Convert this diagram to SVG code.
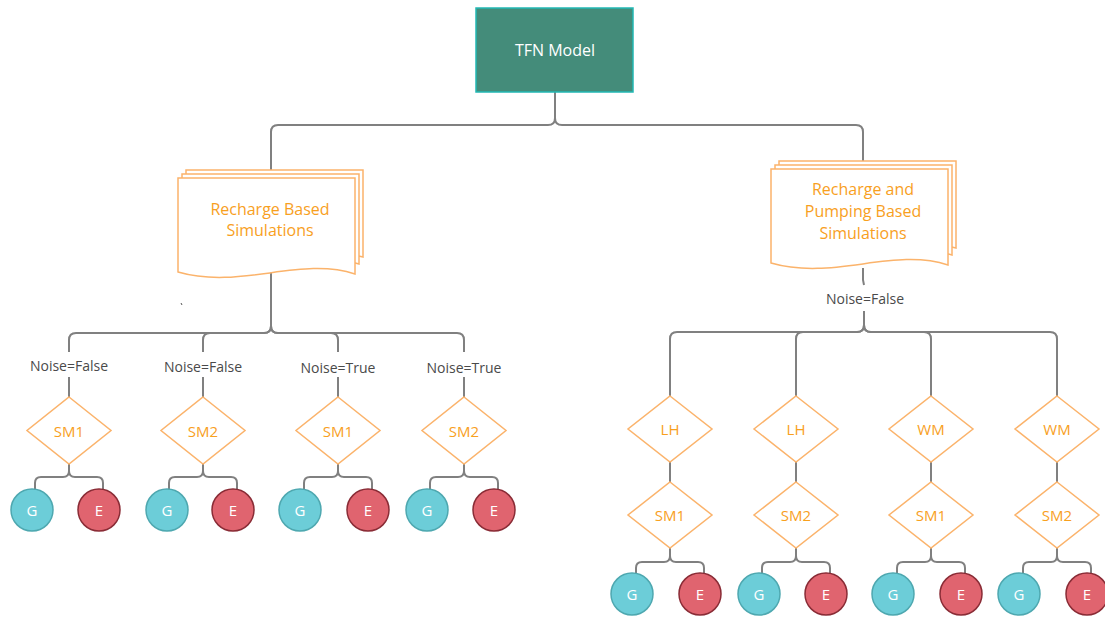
<svg xmlns="http://www.w3.org/2000/svg" xmlns:xlink="http://www.w3.org/1999/xlink" width="1105" height="617" viewBox="0 0 1105 617">
  <style>
    .conn { fill: none; stroke: #808080; stroke-width: 2; }
    .root { fill: #448c7a; stroke: #22b8b4; stroke-width: 1.5; }
    .root-t { fill: #ffffff; font-family: "Open Sans", "Liberation Sans", sans-serif; font-size: 16px; text-anchor: middle; dominant-baseline: central; }
    .doc { fill: #ffffff; stroke: #fbb36b; stroke-width: 1.5; }
    .doc-t { fill: #f8a01e; font-family: "Open Sans", "Liberation Sans", sans-serif; font-size: 16px; text-anchor: middle; dominant-baseline: central; }
    .dia { fill: #ffffff; stroke: #fbb36b; stroke-width: 1.5; }
    .dia-t { fill: #f8a01e; font-family: "Open Sans", "Liberation Sans", sans-serif; font-size: 15px; text-anchor: middle; dominant-baseline: central; }
    .lbl { fill: #4a4a4a; font-family: "Open Sans", "Liberation Sans", sans-serif; font-size: 14px; text-anchor: middle; dominant-baseline: central; }
    .g { fill: #6ccdd8; stroke: #4ea8b0; stroke-width: 1.5; }
    .e { fill: #e0646f; stroke: #8a2c36; stroke-width: 1.5; }
    .ct { fill: #ffffff; font-family: "Open Sans", "Liberation Sans", sans-serif; font-size: 15px; text-anchor: middle; dominant-baseline: central; }
  </style>
  <defs>
    <!-- stacked document shape, origin at the front sheet's top-left -->
    <g id="docStack">
      <path class="doc" d="M8,-8 H185 V79 C178,77 172,76 160,76 L8,76 Z"/>
      <path class="doc" d="M4,-4 H181 V86 C175,84 170,83 160,83 L4,83 Z"/>
      <path class="doc" d="M0,0 H177 V96 C122,78 62,112 0,94 Z"/>
    </g>
  </defs>

  <!-- connectors -->
  <g id="connectors">
    <!-- root to the two simulation sets -->
    <path class="conn" d="M555,92 V118 Q555,125 548,125 H278 Q271,125 271,132 V170"/>
    <path class="conn" d="M555,118 Q555,125 562,125 H856 Q863,125 863,132 V161"/>

    <!-- recharge based: doc to noise labels -->
    <path class="conn" d="M271,270 V326 Q271,333 264,333 H76 Q69,333 69,340 V352"/>
    <path class="conn" d="M271,326 Q271,333 264,333 H210 Q203,333 203,340 V352"/>
    <path class="conn" d="M271,326 Q271,333 278,333 H331 Q338,333 338,340 V352"/>
    <path class="conn" d="M271,326 Q271,333 278,333 H457 Q464,333 464,340 V352"/>
    <!-- labels to diamonds -->
    <path class="conn" d="M69,377 V397 M203,377 V397 M338,377 V397 M464,377 V397"/>
    <!-- diamonds to G / E -->
    <path class="conn" d="M69,464 V471 Q69,477 63,477 H41 Q35,477 35,483 V490 M69,471 Q69,477 75,477 H97 Q103,477 103,483 V490"/>
    <path class="conn" d="M203,464 V471 Q203,477 197,477 H175 Q169,477 169,483 V490 M203,471 Q203,477 209,477 H231 Q237,477 237,483 V490"/>
    <path class="conn" d="M338,464 V471 Q338,477 332,477 H310 Q304,477 304,483 V490 M338,471 Q338,477 344,477 H366 Q372,477 372,483 V490"/>
    <path class="conn" d="M464,464 V471 Q464,477 458,477 H436 Q430,477 430,483 V490 M464,471 Q464,477 470,477 H492 Q498,477 498,483 V490"/>

    <!-- recharge and pumping based -->
    <path class="conn" d="M863,268 V280 L864,285"/>
    <path class="conn" d="M864,311 V325 Q864,332 857,332 H677 Q670,332 670,339 V396"/>
    <path class="conn" d="M864,325 Q864,332 857,332 H803 Q796,332 796,339 V396"/>
    <path class="conn" d="M864,325 Q864,332 871,332 H924 Q931,332 931,339 V396"/>
    <path class="conn" d="M864,325 Q864,332 871,332 H1050 Q1057,332 1057,339 V396"/>
    <!-- first diamond to second diamond -->
    <path class="conn" d="M670,462 V482 M796,462 V482 M931,462 V482 M1057,462 V482"/>
    <!-- second diamond to G / E -->
    <path class="conn" d="M670,548 V556 Q670,562 664,562 H642 Q636,562 636,568 V574 M670,556 Q670,562 676,562 H698 Q704,562 704,568 V574"/>
    <path class="conn" d="M796,548 V556 Q796,562 790,562 H768 Q762,562 762,568 V574 M796,556 Q796,562 802,562 H824 Q830,562 830,568 V574"/>
    <path class="conn" d="M931,548 V556 Q931,562 925,562 H903 Q897,562 897,568 V574 M931,556 Q931,562 937,562 H959 Q965,562 965,568 V574"/>
    <path class="conn" d="M1057,548 V556 Q1057,562 1051,562 H1029 Q1023,562 1023,568 V574 M1057,556 Q1057,562 1063,562 H1085 Q1091,562 1091,568 V574"/>
  </g>

  <!-- root -->
  <g id="tfn-model">
    <rect class="root" x="476" y="8" width="157" height="84"/>
    <text class="root-t" x="555" y="50">TFN Model</text>
  </g>

  <!-- simulation sets -->
  <g id="recharge-based">
    <use xlink:href="#docStack" href="#docStack" transform="translate(178,178)"/>
    <text class="doc-t" x="270" y="209">Recharge Based</text>
    <text class="doc-t" x="270" y="230">Simulations</text>
  </g>
  <path d="M181,303 l1,2" stroke="#555555" stroke-width="1"/>

  <g id="recharge-pumping-based">
    <use xlink:href="#docStack" href="#docStack" transform="translate(771,169)"/>
    <text class="doc-t" x="863" y="189">Recharge and</text>
    <text class="doc-t" x="863" y="211">Pumping Based</text>
    <text class="doc-t" x="863" y="233">Simulations</text>
  </g>

  <!-- noise labels -->
  <g id="labels">
    <text class="lbl" x="69" y="365">Noise=False</text>
    <text class="lbl" x="203" y="366">Noise=False</text>
    <text class="lbl" x="338" y="367">Noise=True</text>
    <text class="lbl" x="464" y="367">Noise=True</text>
    <text class="lbl" x="865" y="298">Noise=False</text>
  </g>

  <!-- recharge based branches -->
  <g id="rb-1">
    <polygon class="dia" points="69,397 111,430.5 69,464 27,430.5"/>
    <text class="dia-t" x="69" y="431">SM1</text>
    <circle class="g" cx="32" cy="510" r="21"/><text class="ct" x="32" y="510">G</text>
    <circle class="e" cx="99" cy="510" r="21"/><text class="ct" x="99" y="510">E</text>
  </g>
  <g id="rb-2">
    <polygon class="dia" points="203,397 245,430.5 203,464 161,430.5"/>
    <text class="dia-t" x="203" y="431">SM2</text>
    <circle class="g" cx="167" cy="510" r="21"/><text class="ct" x="167" y="510">G</text>
    <circle class="e" cx="233" cy="510" r="21"/><text class="ct" x="233" y="510">E</text>
  </g>
  <g id="rb-3">
    <polygon class="dia" points="338,397 380,430.5 338,464 296,430.5"/>
    <text class="dia-t" x="338" y="431">SM1</text>
    <circle class="g" cx="300" cy="510" r="21"/><text class="ct" x="300" y="510">G</text>
    <circle class="e" cx="368" cy="510" r="21"/><text class="ct" x="368" y="510">E</text>
  </g>
  <g id="rb-4">
    <polygon class="dia" points="464,397 506,430.5 464,464 422,430.5"/>
    <text class="dia-t" x="464" y="431">SM2</text>
    <circle class="g" cx="427" cy="510" r="21"/><text class="ct" x="427" y="510">G</text>
    <circle class="e" cx="494" cy="510" r="21"/><text class="ct" x="494" y="510">E</text>
  </g>

  <!-- recharge and pumping based branches -->
  <g id="rpb-1">
    <polygon class="dia" points="670,396 712,429 670,462 628,429"/>
    <text class="dia-t" x="670" y="429">LH</text>
    <polygon class="dia" points="670,482 712,515 670,548 628,515"/>
    <text class="dia-t" x="670" y="515">SM1</text>
    <circle class="g" cx="632" cy="594" r="21"/><text class="ct" x="632" y="594">G</text>
    <circle class="e" cx="700" cy="594" r="21"/><text class="ct" x="700" y="594">E</text>
  </g>
  <g id="rpb-2">
    <polygon class="dia" points="796,396 838,429 796,462 754,429"/>
    <text class="dia-t" x="796" y="429">LH</text>
    <polygon class="dia" points="796,482 838,515 796,548 754,515"/>
    <text class="dia-t" x="796" y="515">SM2</text>
    <circle class="g" cx="759" cy="594" r="21"/><text class="ct" x="759" y="594">G</text>
    <circle class="e" cx="826" cy="594" r="21"/><text class="ct" x="826" y="594">E</text>
  </g>
  <g id="rpb-3">
    <polygon class="dia" points="931,396 973,429 931,462 889,429"/>
    <text class="dia-t" x="931" y="429">WM</text>
    <polygon class="dia" points="931,482 973,515 931,548 889,515"/>
    <text class="dia-t" x="931" y="515">SM1</text>
    <circle class="g" cx="893" cy="594" r="21"/><text class="ct" x="893" y="594">G</text>
    <circle class="e" cx="961" cy="594" r="21"/><text class="ct" x="961" y="594">E</text>
  </g>
  <g id="rpb-4">
    <polygon class="dia" points="1057,396 1099,429 1057,462 1015,429"/>
    <text class="dia-t" x="1057" y="429">WM</text>
    <polygon class="dia" points="1057,482 1099,515 1057,548 1015,515"/>
    <text class="dia-t" x="1057" y="515">SM2</text>
    <circle class="g" cx="1019" cy="594" r="21"/><text class="ct" x="1019" y="594">G</text>
    <circle class="e" cx="1087" cy="594" r="21"/><text class="ct" x="1087" y="594">E</text>
  </g>
</svg>
